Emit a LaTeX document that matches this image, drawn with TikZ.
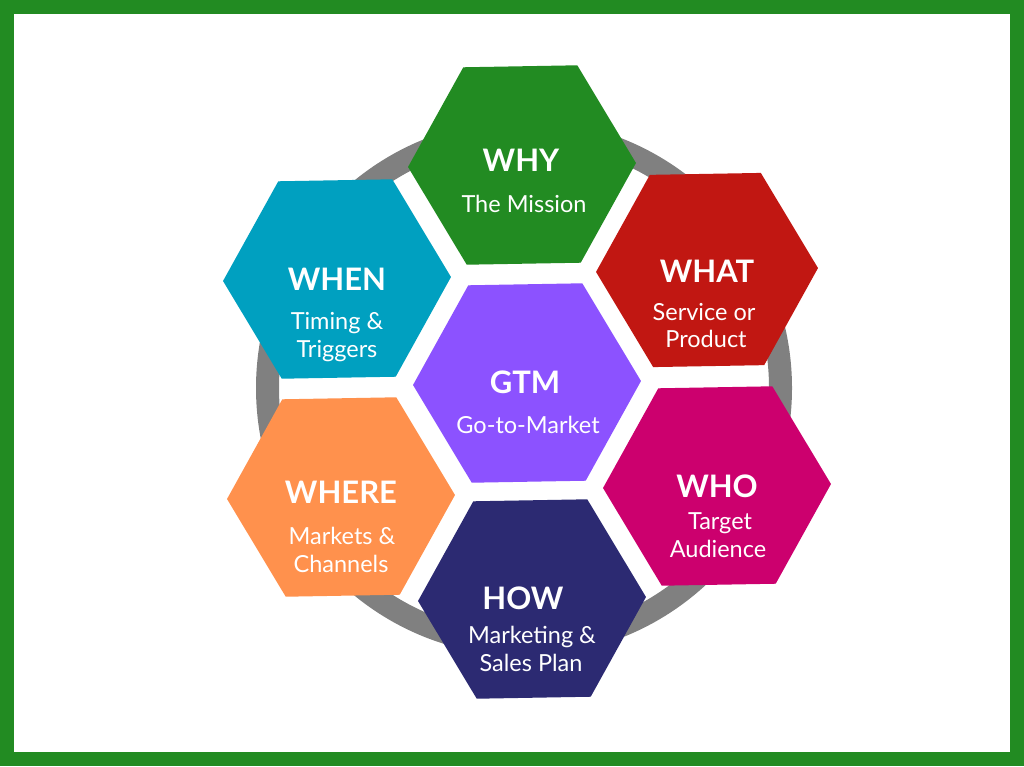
\documentclass[tikz,border=0pt]{standalone}
\usepackage{fontspec}
\setmainfont{Lato}
\usetikzlibrary{shapes.geometric}
\definecolor{bgreen}{HTML}{228B22}
\definecolor{hred}{HTML}{C11712}
\definecolor{hteal}{HTML}{00A0C0}
\definecolor{horange}{HTML}{FF914D}
\definecolor{hmag}{HTML}{CC006E}
\definecolor{hnavy}{HTML}{2C2A72}
\definecolor{hpurple}{HTML}{8C52FF}
\definecolor{ringgray}{HTML}{808080}
\tikzset{
  hexa/.style={regular polygon, regular polygon sides=6, minimum size=228pt,
    inner sep=0pt, outer sep=0pt, shape border rotate=1},
  ttl/.style={text=white, anchor=base, inner sep=0pt, font=\fontsize{31}{36}\selectfont\bfseries},
  sub/.style={text=white, anchor=base, inner sep=0pt, font=\fontsize{23.5}{28}\selectfont}
}
\begin{document}
\begin{tikzpicture}[x=1pt,y=-1pt]
\useasboundingbox (0,0) rectangle (1024,766);
\fill[bgreen] (0,0) rectangle (1024,766);
\fill[white] (14,14) rectangle (1010,752);
\draw[ringgray, line width=23pt] (524,388) circle (256.5);
% hexagons
\node[hexa, fill=bgreen] (why) at (522,165) {};
\node[hexa, fill=hred, minimum size=222pt] (what) at (707,270) {};
\node[hexa, fill=hmag] (who) at (717,486) {};
\node[hexa, fill=hnavy] (how) at (532,599) {};
\node[hexa, fill=horange] (where) at (341,497) {};
\node[hexa, fill=hteal] (when) at (337,279) {};
\node[hexa, fill=hpurple] (gtm) at (527,383) {};
% texts
\node[ttl] (whyt) at (521,171) {WHY};
\node[sub] (whys) at (524,212) {The Mission};
\node[ttl] (gtmt) at (525,393) {GTM};
\node[sub] (gtms) at (528,433) {Go-to-Market};
\node[ttl] (whent) at (337,290) {WHEN};
\node[sub] (whens1) at (337,329) {Timing \&};
\node[sub] (whens2) at (337,357) {Triggers};
\node[ttl] (whatt) at (707,282) {WHAT};
\node[sub] (whats1) at (704,320) {Service or};
\node[sub] (whats2) at (706,347) {Product};
\node[ttl] (whot) at (717,497) {WHO};
\node[sub] (whos1) at (720,529) {Target};
\node[sub] (whos2) at (718,557) {Audience};
\node[ttl] (howt) at (523,609) {HOW};
\node[sub] (hows1) at (532,643) {Marketing \&};
\node[sub] (hows2) at (531,671) {Sales Plan};
\node[ttl] (wheret) at (341,503) {WHERE};
\node[sub] (wheres1) at (342,544) {Markets \&};
\node[sub] (wheres2) at (341,572) {Channels};
\end{tikzpicture}
\end{document}
